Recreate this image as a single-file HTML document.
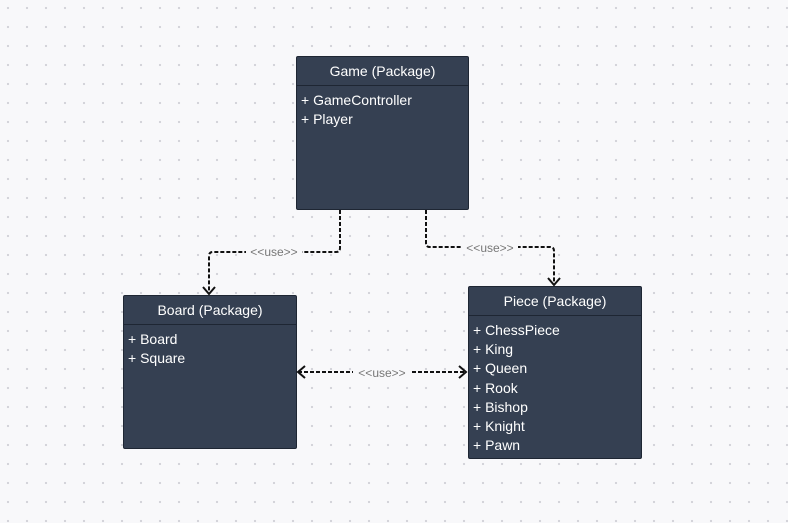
<!DOCTYPE html><html><head><style>
body{margin:0;width:788px;height:523px;overflow:hidden;background:#f8f8fa;background-image:radial-gradient(circle,#d4d4da 1.1px,transparent 1.3px);background-size:19px 19px;background-position:-1.5px -1.5px;font-family:"Liberation Sans","DejaVu Sans",sans-serif;position:relative}
.b{position:absolute;background:#354052;border:1.5px solid #1e2633;border-radius:2px;box-sizing:border-box;color:#fff}
.h{height:28px;line-height:28px;text-align:center;font-size:14px;border-bottom:1.5px solid #1e2633}
.c{padding:5px 0 0 4px;font-size:14px;line-height:19.2px}
svg{position:absolute;left:0;top:0}
</style></head><body>
<div class="b" style="left:296px;top:56px;width:173px;height:154px"><div class="h">Game (Package)</div><div class="c">+ GameController<br>+ Player</div></div>
<div class="b" style="left:123px;top:295px;width:174px;height:154px"><div class="h">Board (Package)</div><div class="c">+ Board<br>+ Square</div></div>
<div class="b" style="left:468px;top:286px;width:174px;height:173px"><div class="h">Piece (Package)</div><div class="c">+ ChessPiece<br>+ King<br>+ Queen<br>+ Rook<br>+ Bishop<br>+ Knight<br>+ Pawn</div></div>
<svg width="788" height="523" font-family="Liberation Sans, sans-serif" font-size="12" fill="#777">
<g fill="none" stroke="#111" stroke-width="2" stroke-dasharray="4,2">
<path d="M340 210V248q0 4-4 4H213q-4 0-4 4V294"/>
<path d="M426 210V243q0 4 4 4H550q4 0 4 4V285"/>
<path d="M298 372H466"/>
</g>
<g fill="none" stroke="#111" stroke-width="2">
<path d="M203 287l6 7 6-7"/><path d="M548 278l6 7 6-7"/>
<path d="M305 366l-7 6 7 6"/><path d="M459 366l7 6-7 6"/>
</g>
<rect x="246" y="245" width="56" height="14" fill="#f8f8fa"/><text x="274" y="256" text-anchor="middle">&lt;&lt;use&gt;&gt;</text>
<rect x="462" y="240" width="56" height="14" fill="#f8f8fa"/><text x="490" y="252" text-anchor="middle">&lt;&lt;use&gt;&gt;</text>
<rect x="353" y="365" width="58" height="14" fill="#f8f8fa"/><text x="382" y="377" text-anchor="middle">&lt;&lt;use&gt;&gt;</text>
</svg>
</body></html>
